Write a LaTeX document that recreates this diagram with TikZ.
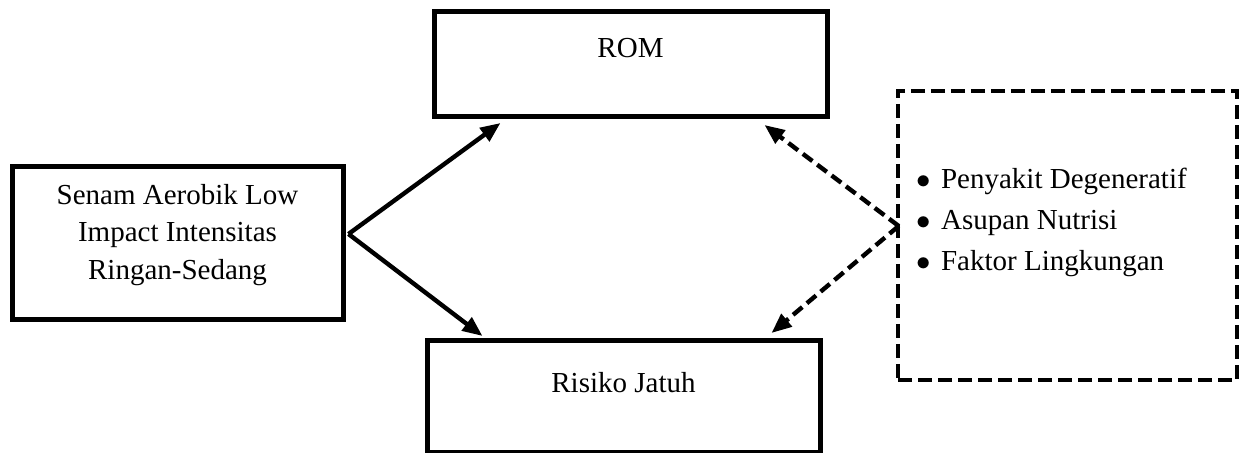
\documentclass[tikz,border=0pt]{standalone}
\usepackage{fontspec}
\setmainfont{Liberation Serif}
\usetikzlibrary{arrows.meta,calc}
\begin{document}
\begin{tikzpicture}[x=0.5pt,y=-0.5pt,
  txt/.style={font=\fontsize{14.5}{18.8}\selectfont},
  box/.style={txt, draw, line width=2.5pt, inner sep=0pt},
  arr/.style={line width=2.2pt, -{Triangle[length=10pt,width=8pt]}},
  darr/.style={arr, dash pattern=on 6pt off 3pt}]
\useasboundingbox (0,0) rectangle (1242,453);
\node[box, minimum width=196.5pt, text height=23pt, text depth=29.5pt, anchor=north] (rom) at (630.5,9) {ROM};
\node[box, minimum width=196.5pt, text height=26pt, text depth=30pt, anchor=north] (ris) at (623.5,338) {Risiko Jatuh};
\node[box, minimum width=165.5pt, text height=56.5pt, text depth=20pt, align=center, anchor=north] (sen) at (177.5,164)
  {Senam Aerobik Low\\Impact Intensitas\\Ringan-Sedang};
\node[draw, line width=2.3pt, dash pattern=on 7pt off 3pt, minimum width=169.5pt, minimum height=144.5pt, inner sep=0pt] (fac) at (1067.5,235.5) {};
\node[font=\fontsize{14.5}{20.5}\selectfont, align=left, anchor=north west, inner sep=0pt] (lst) at ($(fac.north west)+(20,79)$)
  {\makebox[12.5pt][l]{$\bullet$}Penyakit Degeneratif\\
   \makebox[12.5pt][l]{$\bullet$}Asupan Nutrisi\\
   \makebox[12.5pt][l]{$\bullet$}Faktor Lingkungan};
\coordinate (ds) at ($(fac.west)+(3,-9.5)$);
\draw[arr] ($(sen.east)+(3,-9)$) -- ($(rom.south west)+(69,4)$);
\draw[arr] ($(sen.east)+(3,-9)$) -- ($(ris.north west)+(58,-2)$);
\draw[darr] (ds) -- ($(rom.south east)+(-65,6)$);
\draw[darr] (ds) -- ($(ris.north east)+(-51,-5)$);
\end{tikzpicture}
\end{document}
